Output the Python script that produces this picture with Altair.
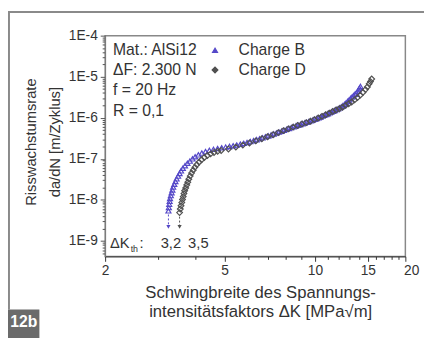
import altair as alt
import pandas as pd

# ---- data ----
dk_b = [3.25, 3.26, 3.27, 3.28, 3.29, 3.31, 3.33, 3.35, 3.37, 3.40, 3.43, 3.46, 3.50, 3.54,
        3.58, 3.63, 3.69, 3.76, 3.83, 3.91, 3.99, 4.09, 4.20, 4.32, 4.45, 4.59, 4.74, 4.89,
        5.04, 5.19, 5.34, 5.49, 5.64, 5.79, 5.94, 6.09, 6.24, 6.39, 6.54, 6.69, 6.84, 6.99,
        7.14, 7.29, 7.44, 7.59, 7.74, 7.89, 8.04, 8.19, 8.34, 8.49, 8.64, 8.79, 8.94, 9.09,
        9.24, 9.39, 9.54, 9.69, 9.84, 9.99, 10.14, 10.29, 10.44, 10.59, 10.74, 10.89, 11.04,
        11.19, 11.34, 11.49, 11.64, 11.79, 11.94, 12.09, 12.24, 12.39, 12.54, 12.69, 12.84,
        12.99, 13.14, 13.29, 13.44, 13.59, 13.74, 13.87, 13.98, 14.08, 14.17]
rate_b = [5.4e-9, 6.5e-9, 7.8e-9, 9.2e-9, 1.08e-8, 1.27e-8, 1.5e-8, 1.75e-8, 2.05e-8, 2.4e-8,
          2.8e-8, 3.25e-8, 3.8e-8, 4.4e-8, 5.1e-8, 5.9e-8, 6.8e-8, 7.8e-8, 8.8e-8, 1.0e-7,
          1.12e-7, 1.25e-7, 1.38e-7, 1.5e-7, 1.61e-7, 1.7e-7, 1.78e-7, 1.86e-7, 1.93e-7,
          2.0e-7, 2.08e-7, 2.17e-7, 2.27e-7, 2.38e-7, 2.5e-7, 2.63e-7, 2.77e-7, 2.92e-7,
          3.08e-7, 3.25e-7, 3.43e-7, 3.62e-7, 3.82e-7, 4.03e-7, 4.25e-7, 4.48e-7, 4.72e-7,
          4.97e-7, 5.22e-7, 5.5e-7, 5.77e-7, 6.05e-7, 6.33e-7, 6.6e-7, 6.88e-7, 7.17e-7,
          7.47e-7, 7.78e-7, 8.1e-7, 8.45e-7, 8.82e-7, 9.2e-7, 9.6e-7, 1.0e-6, 1.05e-6,
          1.1e-6, 1.15e-6, 1.2e-6, 1.26e-6, 1.32e-6, 1.38e-6, 1.45e-6, 1.51e-6, 1.58e-6,
          1.66e-6, 1.75e-6, 1.85e-6, 1.97e-6, 2.12e-6, 2.3e-6, 2.5e-6, 2.72e-6, 2.95e-6,
          3.2e-6, 3.47e-6, 3.75e-6, 4.05e-6, 4.4e-6, 4.8e-6, 5.3e-6, 5.8e-6]

dk_d = [3.54, 3.56, 3.58, 3.60, 3.62, 3.64, 3.66, 3.68, 3.71, 3.74, 3.77, 3.80, 3.84, 3.88,
        3.93, 3.98, 4.04, 4.11, 4.19, 4.28, 4.38, 4.49, 4.61, 4.74, 4.87, 5.15, 5.45, 5.75,
        6.05, 6.35, 6.65, 6.95, 7.25, 7.55, 7.85, 8.15, 8.45, 8.75, 9.05, 9.35, 9.65, 9.95,
        10.25, 10.55, 10.85, 11.15, 11.45, 11.75, 12.05, 12.35, 12.65, 12.95, 13.25, 13.55,
        13.85, 14.15, 14.45, 14.72, 14.95, 15.15, 15.30, 15.45]
rate_d = [4.9e-9, 6.0e-9, 7.2e-9, 8.6e-9, 1.02e-8, 1.2e-8, 1.42e-8, 1.67e-8, 1.95e-8, 2.3e-8,
          2.7e-8, 3.2e-8, 3.8e-8, 4.5e-8, 5.3e-8, 6.2e-8, 7.2e-8, 8.3e-8, 9.5e-8, 1.08e-7,
          1.2e-7, 1.32e-7, 1.43e-7, 1.52e-7, 1.6e-7, 1.74e-7, 1.93e-7, 2.16e-7, 2.43e-7,
          2.73e-7, 3.07e-7, 3.45e-7, 3.87e-7, 4.35e-7, 4.85e-7, 5.37e-7, 5.92e-7, 6.47e-7,
          7.02e-7, 7.6e-7, 8.25e-7, 9.0e-7, 9.85e-7, 1.08e-6, 1.18e-6, 1.3e-6, 1.42e-6,
          1.54e-6, 1.66e-6, 1.8e-6, 2.0e-6, 2.2e-6, 2.42e-6, 2.72e-6, 3.1e-6, 3.55e-6,
          4.15e-6, 4.85e-6, 5.65e-6, 6.7e-6, 7.6e-6, 8.8e-6]

series_names = ["Charge B", "Charge D"]
thresholds = [3.25, 3.54]
arrow_top = [4.4e-9, 3.9e-9]
arrow_end = [2.2e-9, 2.2e-9]

x_ticks = list(range(2, 21))
x_labelled = [2, 5, 10, 15, 20]
y_ticks = [k * 10.0 ** d for d in range(-10, -4) for k in range(1, 10)] + [1e-4]
y_ticks = [v for v in y_ticks if v >= 4.2e-10]

annot_lines = ["Mat.: AlSi12", "\u0394F: 2.300 N", "f = 20 Hz", "R = 0,1"]

# ---- build ----
FONT = "Liberation Sans"
TXT = "#333333"
COL_B = "#5548c8"
COL_D = "#505050"

df = pd.DataFrame({
    "dk": dk_b + dk_d,
    "rate": rate_b + rate_d,
    "series": [series_names[0]] * len(dk_b) + [series_names[1]] * len(dk_d),
})
arrows = pd.DataFrame({
    "dk": thresholds, "top": arrow_top, "end": arrow_end, "series": series_names
})

xscale = alt.Scale(type="log", domain=[2, 20], nice=False)
yscale = alt.Scale(type="log", domain=[4.2e-10, 1e-4], nice=False)

x_test = "indexof(" + str(x_labelled) + ", datum.value) >= 0"
dec_test = "abs(log(datum.value)/LN10 - round(log(datum.value)/LN10)) < 0.01"
xaxis = alt.Axis(
    values=x_ticks, format="d",
    labelExpr=x_test + " ? datum.label : ''",
    tickSize={"condition": {"test": x_test, "value": 5}, "value": 3},
    labelOffset={"condition": {"test": "datum.value == 20", "value": 6}, "value": 0},
    grid=False, labelFontSize=14, labelPadding=2, labelColor=TXT, labelFlush=False,
    domainColor="#333", tickColor="#333",
    title=["Schwingbreite des Spannungs-", "intensit\u00e4tsfaktors \u0394K [MPa\u221am]"],
    titleFontSize=17, titleLineHeight=19, titleFontWeight="normal", titleColor=TXT,
    titleX=158, titleY=29, titleAlign="center", titleBaseline="top",
)
yaxis = alt.Axis(
    values=y_ticks,
    labelExpr=dec_test + " ? '1E' + round(log(datum.value)/LN10) : ''",
    tickSize={"condition": {"test": dec_test, "value": 5}, "value": 3},
    grid=False, labelFontSize=14, labelPadding=3, labelColor=TXT,
    domainColor="#777", tickColor="#555",
    title=["Risswachstumsrate", "da/dN [m/Zyklus]"],
    titleFontSize=15, titleLineHeight=24, titleFontWeight="normal", titleColor=TXT,
    titleAngle=270, titleX=-83, titleY=108, titleAlign="center", titleBaseline="top",
)

leg = dict(title=None, orient="none", legendX=104, legendY=7,
           labelFontSize=16, labelColor=TXT, labelOffset=16,
           symbolSize=36, rowPadding=4, padding=0, symbolStrokeWidth=1.2)

points = alt.Chart(df).mark_point(filled=False, strokeWidth=1.2, opacity=1).encode(
    x=alt.X("dk:Q", scale=xscale, axis=xaxis),
    y=alt.Y("rate:Q", scale=yscale, axis=yaxis),
    color=alt.Color("series:N", scale=alt.Scale(domain=series_names, range=[COL_B, COL_D]),
                    legend=alt.Legend(**leg)),
    shape=alt.Shape("series:N", scale=alt.Scale(domain=series_names, range=["triangle-up", "diamond"]),
                    legend=alt.Legend(**leg)),
    size=alt.Size("series:N", scale=alt.Scale(domain=series_names, range=[26, 34]), legend=None),
)

arrow_cols = alt.Scale(domain=series_names, range=[COL_B, COL_D])
arrow_rules = alt.Chart(arrows).mark_rule(strokeDash=[2, 2], strokeWidth=1).encode(
    x=alt.X("dk:Q", scale=xscale), y=alt.Y("top:Q", scale=yscale), y2="end:Q",
    color=alt.Color("series:N", scale=arrow_cols, legend=None),
)
arrow_heads = alt.Chart(arrows).mark_point(shape="triangle-down", filled=True, size=18, opacity=1).encode(
    x=alt.X("dk:Q", scale=xscale), y=alt.Y("end:Q", scale=yscale),
    color=alt.Color("series:N", scale=arrow_cols, legend=None),
)

one = pd.DataFrame({"a": [0]})
annot = alt.Chart(one).mark_text(align="left", baseline="top", fontSize=16, color=TXT,
                                 lineHeight=20.5, font=FONT).encode(
    x=alt.value(8), y=alt.value(7), text=alt.value(annot_lines))

th_dk = alt.Chart(one).mark_text(align="left", baseline="middle", fontSize=15, color=TXT, font=FONT).encode(
    x=alt.value(5), y=alt.value(211), text=alt.value("\u0394K"))
th_sub = alt.Chart(one).mark_text(align="left", baseline="middle", fontSize=9, color=TXT, font=FONT).encode(
    x=alt.value(26), y=alt.value(218), text=alt.value("th"))
th_colon = alt.Chart(one).mark_text(align="left", baseline="middle", fontSize=15, color=TXT, font=FONT).encode(
    x=alt.value(35), y=alt.value(211), text=alt.value(":"))
th_b = alt.Chart(one).mark_text(align="center", baseline="middle", fontSize=15, color=TXT, font=FONT).encode(
    x=alt.value(67), y=alt.value(211), text=alt.value("3,2"))
th_d = alt.Chart(one).mark_text(align="center", baseline="middle", fontSize=15, color=TXT, font=FONT).encode(
    x=alt.value(95), y=alt.value(211), text=alt.value("3,5"))

# outer page frame and figure tag
top_line = alt.Chart(one).mark_rule(color="#8a8a8a", strokeWidth=2).encode(
    x=alt.value(-99), x2=alt.value(330), y=alt.value(-24))
left_line = alt.Chart(one).mark_rule(color="#8a8a8a", strokeWidth=2).encode(
    x=alt.value(-98), y=alt.value(-24), y2=alt.value(279))
tag_box = alt.Chart(one).mark_rect(color="#6b6b6b").encode(
    x=alt.value(-99), x2=alt.value(-67), y=alt.value(279), y2=alt.value(310))
tag_txt = alt.Chart(one).mark_text(color="white", fontSize=16, fontWeight="bold", font=FONT,
                                   align="center", baseline="middle").encode(
    x=alt.value(-83), y=alt.value(292), text=alt.value("12b"))

chart = alt.layer(
    top_line, left_line, tag_box, tag_txt,
    points, arrow_rules, arrow_heads, annot, th_dk, th_sub, th_colon, th_b, th_d,
).properties(
    width=306, height=225,
    autosize=alt.AutoSizeParams(type="none"),
    padding={"left": 99, "top": 25, "right": 19, "bottom": 80},
    background="white",
).configure(font=FONT).configure_view(stroke="#888888", strokeWidth=1.5)

chart.save("out.html", embed_options={"renderer": "svg", "actions": False})
